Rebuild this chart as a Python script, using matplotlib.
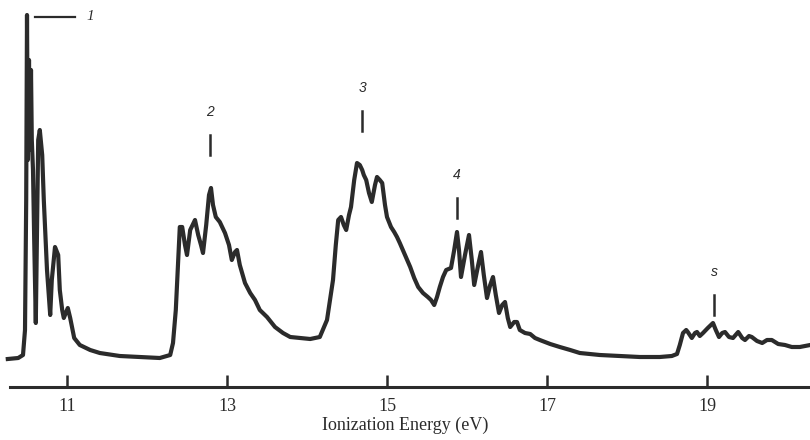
import numpy as np
import matplotlib.pyplot as plt

# photoelectron spectrum (energy in eV, relative intensity)
energy = [10.26, 10.39, 10.45, 10.475, 10.49, 10.5, 10.51, 10.525, 10.54, 10.55, 10.56, 10.575,
          10.59, 10.61, 10.64, 10.66, 10.69, 10.71, 10.75, 10.79, 10.81, 10.85, 10.89, 10.91,
          10.94, 10.96, 10.99, 11.01, 11.04, 11.09, 11.16, 11.29, 11.41, 11.66, 11.91, 12.16,
          12.29, 12.325, 12.36, 12.39, 12.41, 12.44, 12.475, 12.5, 12.54, 12.6, 12.64, 12.675,
          12.7, 12.74, 12.775, 12.8, 12.825, 12.86, 12.91, 12.975, 13.025, 13.06, 13.1, 13.125,
          13.16, 13.225, 13.29, 13.35, 13.41, 13.5, 13.6, 13.7, 13.79, 13.91, 14.04,
          14.16, 14.25, 14.325, 14.36, 14.39, 14.425, 14.46, 14.49, 14.525, 14.55, 14.59, 14.625,
          14.66, 14.69, 14.71, 14.74, 14.775, 14.81, 14.85, 14.875, 14.91, 14.94, 14.975, 15.0,
          15.05, 15.09, 15.125, 15.16, 15.225, 15.29, 15.34, 15.39, 15.45, 15.51, 15.55, 15.59,
          15.625, 15.66, 15.7, 15.74, 15.8, 15.84, 15.875, 15.9, 15.925, 15.975, 16.025, 16.06,
          16.09, 16.14, 16.175, 16.21, 16.25, 16.29, 16.325, 16.36, 16.4, 16.44, 16.475, 16.51,
          16.54, 16.59, 16.625, 16.66, 16.725, 16.79, 16.85, 16.91, 17.04, 17.16, 17.29, 17.41,
          17.66, 17.91, 18.16, 18.41, 18.56, 18.625, 18.66, 18.7, 18.74, 18.76, 18.81, 18.85,
          18.875, 18.91, 18.95, 19.01, 19.075, 19.11, 19.15, 19.19, 19.225, 19.275, 19.325, 19.39,
          19.44, 19.475, 19.525, 19.56, 19.625, 19.69, 19.75, 19.81, 19.89, 19.975, 20.06, 20.16,
          20.29]
intensity = [1, 2, 5, 30, 160, 345, 200, 300, 210, 290, 220, 190,
             120, 37, 220, 230, 205, 160, 90, 45, 80, 113, 105, 70,
             50, 42, 48, 52, 42, 22, 15, 10, 7, 4, 3, 2,
             5, 17, 50, 100, 133, 133, 115, 105, 130, 140, 125, 115,
             107, 135, 165, 172, 155, 143, 138, 127, 115, 100, 108, 110,
             95, 77, 67, 60, 50, 43, 33, 27, 23, 22, 21,
             23, 40, 80, 115, 140, 143, 135, 130, 145, 153, 180, 197,
             195, 190, 185, 180, 167, 158, 175, 183, 180, 177, 155, 143,
             133, 128, 123, 117, 105, 93, 82, 73, 67, 63, 60, 55,
             63, 73, 83, 90, 92, 110, 128, 110, 83, 105, 125, 100,
             75, 95, 108, 85, 62, 75, 83, 65, 47, 55, 58, 42,
             33, 38, 38, 30, 27, 26, 22, 20, 16, 13, 10, 7,
             5, 4, 3, 3, 4, 6, 15, 27, 30, 28, 22, 27,
             28, 24, 27, 32, 37, 30, 23, 27, 28, 23, 22, 28,
             22, 20, 24, 23, 19, 17, 20, 20, 16, 15, 13, 13,
             15]

xticks = [11, 13, 15, 17, 19]

# band labels
band_names = ["2", "3", "4", "s"]
band_energy = [12.79, 14.69, 15.875, 19.09]
band_text_y = [248, 272, 185, 88]

ink = "#2b2b2b"

fig = plt.figure(figsize=(8.1, 4.4), dpi=100)
ax = fig.add_axes([0, 53 / 440, 1, 387 / 440])

ax.plot(energy, intensity, color=ink, lw=3.0, solid_joinstyle="round")

ax.set_xlim(10.1625, 20.2875)
ax.set_ylim(-27, 360)

for s in ["top", "left", "right"]:
    ax.spines[s].set_visible(False)
ax.spines["bottom"].set_bounds(10.29, 20.29)
ax.spines["bottom"].set_linewidth(2.2)
ax.spines["bottom"].set_color(ink)
ax.set_yticks([])
ax.set_xticks(xticks)
ax.set_xticklabels([str(t) for t in xticks], family="Liberation Serif", fontsize=13)
ax.tick_params(axis="x", direction="in", length=9, width=1.8, color=ink, pad=8, labelcolor=ink)
ax.set_xlabel("Ionization Energy (eV)", family="Liberation Serif", fontsize=13, color=ink, labelpad=1)
ax.patch.set_alpha(0)

# band 1 marker: short line to the side
ax.plot([10.6, 11.1], [343, 343], color=ink, lw=1.6)
ax.text(11.29, 343, "1", family="Liberation Serif", style="italic", fontsize=11,
        color=ink, ha="center", va="center")

for name, e, ty in zip(band_names, band_energy, band_text_y):
    ax.text(e, ty, name, family="Liberation Sans", style="italic", fontsize=10,
            color=ink, ha="center", va="center")
    ax.plot([e, e], [ty - 43, ty - 23], color=ink, lw=1.8)

fig.savefig("out.png", dpi=100)
